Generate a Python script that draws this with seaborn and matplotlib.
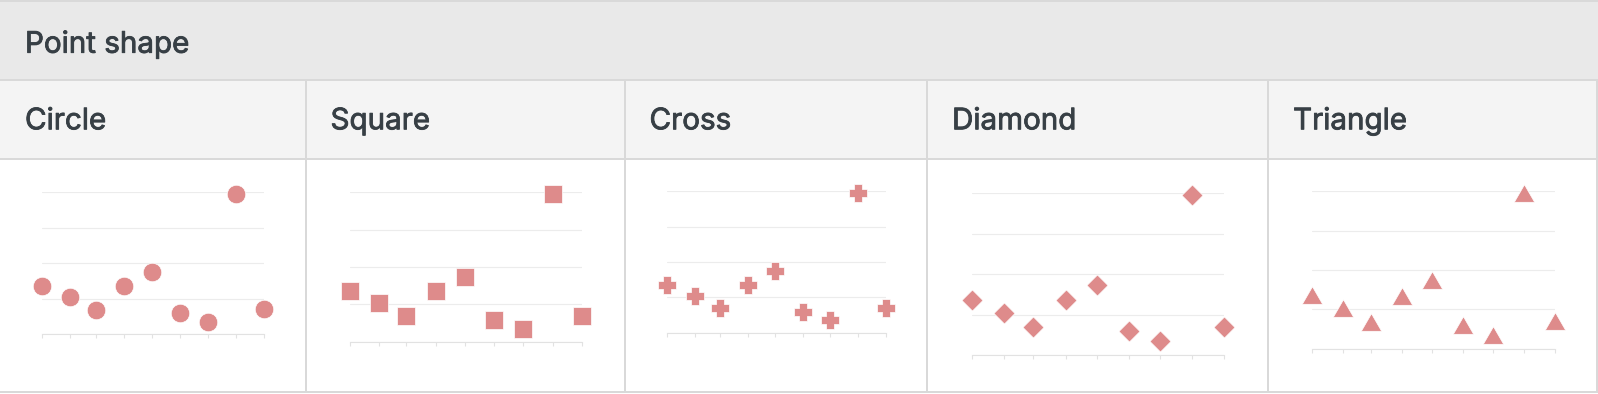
import numpy as np
import pandas as pd
import matplotlib
matplotlib.use('Agg')
import matplotlib.pyplot as plt
import matplotlib.patheffects as pe
from matplotlib.path import Path
import seaborn as sns

TITLE = 'Point shape'
SHAPES = ['Circle', 'Square', 'Cross', 'Diamond', 'Triangle']
MONTHS = pd.date_range('2021-01-01', periods=9, freq='MS')
VALUES = [13.6, 10.4, 6.9, 13.5, 17.4, 5.9, 3.5, 39.5, 7.0]
Y_TICKS = [0, 10, 20, 30, 40]

W, H = 1598, 394
DPI = 100

# layout in pixels: column edges and chart boxes (x0, x1, y0, y1)
COL_EDGES = [0, 305.5, 624.5, 927, 1268, 1598]
BOXES = [
    (42.0, 264.3, 192.0, 334.3),
    (349.7, 582.3, 192.3, 341.7),
    (666.7, 886.0, 191.3, 332.7),
    (972.3, 1224.3, 193.0, 355.0),
    (1312.3, 1554.7, 191.3, 348.7),
]

tri = Path([(-1, -0.866), (1, -0.866), (0, 0.866), (-1, -0.866)],
           [Path.MOVETO, Path.LINETO, Path.LINETO, Path.CLOSEPOLY])
a = 0.4  # half arm thickness of the cross, relative to half width 1
cross = Path([(-a, -1), (a, -1), (a, -a), (1, -a), (1, a), (a, a), (a, 1),
              (-a, 1), (-a, a), (-1, a), (-1, -a), (-a, -a), (-a, -1)],
             [Path.MOVETO] + [Path.LINETO] * 11 + [Path.CLOSEPOLY])
# marker and its base size in px (for a 222 px wide chart)
MARKERS = [('o', 18.5), ('s', 18.1), (cross, 19.2), ('D', 13.1), (tri, 18.6)]

POINT_COLOR = '#de8b8b'
GRID_COLOR = '#ececec'
AXIS_COLOR = '#e2e2e2'
BORDER = '#d9d9d9'
TEXT = '#373f45'

sns.set_style('white')
plt.rcParams['font.family'] = ['Inter', 'DejaVu Sans']

fig = plt.figure(figsize=(W / DPI, H / DPI), dpi=DPI)

# table background
bg = fig.add_axes([0, 0, 1, 1])
bg.set_xlim(0, W)
bg.set_ylim(H, 0)
bg.axis('off')
bg.add_patch(plt.Rectangle((0, 0), W, 80, color='#e9e9e9', lw=0))
bg.add_patch(plt.Rectangle((0, 80), W, 79, color='#f4f4f4', lw=0))
bg.add_patch(plt.Rectangle((0, 159), W, H - 159, color='white', lw=0))
lw = 2 * 72 / DPI
for y in [1, 80, 159, 392]:
    bg.plot([0, W], [y, y], color=BORDER, lw=lw, solid_capstyle='butt')
for x in COL_EDGES[1:-1] + [1597]:
    bg.plot([x, x], [80, 393], color=BORDER, lw=lw, solid_capstyle='butt')

# regular weight thickened a little to look like a medium weight
heavier = [pe.withStroke(linewidth=0.6, foreground=TEXT)]
bg.text(25, 52.7, TITLE, fontsize=21.3, color=TEXT, va='baseline', path_effects=heavier)
for left, name in zip(COL_EDGES[:-1], SHAPES):
    bg.text(left + 25, 129.3, name, fontsize=21.3, color=TEXT, va='baseline', path_effects=heavier)

for (x0, x1, y0, y1), (marker, base) in zip(BOXES, MARKERS):
    ax = fig.add_axes([x0 / W, 1 - y1 / H, (x1 - x0) / W, (y1 - y0) / H])
    ax.patch.set_alpha(0)
    k = (x1 - x0) / 222.0
    size_pt = base * k * 72 / DPI
    sns.scatterplot(x=MONTHS, y=VALUES, marker=marker, s=size_pt ** 2,
                    color=POINT_COLOR, edgecolor='white', linewidth=0.5,
                    clip_on=False, zorder=3, ax=ax)
    ax.set_xlim(MONTHS[0], MONTHS[-1])
    ax.set_ylim(0, 40)
    ax.set_yticks(Y_TICKS)
    ax.set_xticks(MONTHS)
    ax.yaxis.grid(True, color=GRID_COLOR, lw=0.8)
    ax.xaxis.grid(False)
    for side in ['top', 'left', 'right']:
        ax.spines[side].set_visible(False)
    ax.spines['bottom'].set_color(AXIS_COLOR)
    ax.spines['bottom'].set_linewidth(0.8)
    ax.tick_params(axis='x', length=3, width=0.8, color=AXIS_COLOR, labelbottom=False, bottom=True)
    ax.tick_params(axis='y', length=0, labelleft=False)
    ax.set_xlabel('')
    ax.set_ylabel('')

fig.savefig('out.png', dpi=DPI)
